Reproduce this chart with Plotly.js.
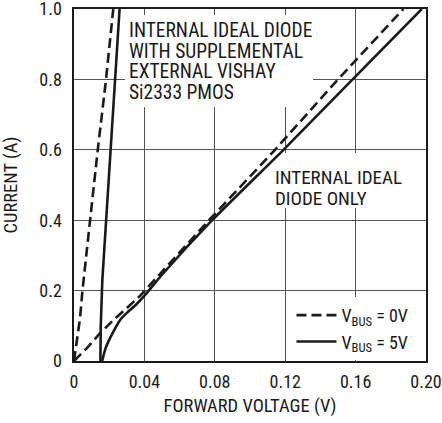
<!DOCTYPE html>
<html>
<head>
<meta charset="utf-8">
<script src="https://cdn.plot.ly/plotly-3.0.1.min.js"></script>
<style>
html,body{margin:0;padding:0;background:#fff;}
#chart{width:442px;height:423px;}
#chart svg text{font-stretch:87% !important;}
</style>
</head>
<body>
<div id="chart"></div>
<script>
// Forward voltage (V) and current (A)
var pmosV0 = [0, 0.0015, 0.0034, 0.0048, 0.0091, 0.0135, 0.0182, 0.0223];
var pmosI0 = [0, 0.05, 0.12, 0.20, 0.40, 0.60, 0.80, 1.00];
var pmosV5 = [0.0150, 0.0152, 0.0161, 0.0182, 0.0208, 0.0233, 0.0259];
var pmosI5 = [0, 0.10, 0.23, 0.40, 0.60, 0.80, 1.00];
var idealV0 = [0, 0.0072, 0.0148, 0.0223, 0.0299, 0.0375, 0.0767, 0.1142, 0.1500, 0.1871];
var idealI0 = [0, 0.036, 0.079, 0.116, 0.150, 0.185, 0.400, 0.600, 0.800, 1.000];
var idealV5 = [0.0160, 0.0176, 0.0195, 0.0223, 0.0261, 0.0299, 0.0356, 0.0413, 0.0500, 0.0785, 0.1190, 0.1583, 0.1976];
var idealI5 = [0, 0.031, 0.055, 0.083, 0.116, 0.136, 0.162, 0.193, 0.245, 0.400, 0.600, 0.800, 1.000];

var xTickVals = [0, 0.04, 0.08, 0.12, 0.16, 0.20];
var xTickText = ['0', '0.04', '0.08', '0.12', '0.16', '0.20'];
var yTickVals = [0, 0.2, 0.4, 0.6, 0.8, 1.0];
var yTickText = ['0', '0.2', '0.4', '0.6', '0.8', '1.0'];

var legend0 = 'V<sub>BUS</sub> = 0V';
var legend5 = 'V<sub>BUS</sub> = 5V';
var note1 = ['INTERNAL IDEAL DIODE', 'WITH SUPPLEMENTAL', 'EXTERNAL VISHAY', 'Si2333 PMOS'];
var note2 = ['INTERNAL IDEAL', 'DIODE ONLY'];

var FONT = 'Roboto, "Liberation Sans", sans-serif';
var INK = '#1a1a1a';
var DASH = '10px,5px';

var traces = [
  {x: idealV0, y: idealI0, mode: 'lines', name: legend0, legendgroup: 'v0', showlegend: true,
   line: {color: INK, width: 2.6, dash: DASH}},
  {x: pmosV0, y: pmosI0, mode: 'lines', name: legend0, legendgroup: 'v0', showlegend: false,
   line: {color: INK, width: 2.6, dash: DASH}},
  {x: idealV5, y: idealI5, mode: 'lines', name: legend5, legendgroup: 'v5', showlegend: true,
   line: {color: INK, width: 2.6, shape: 'spline', smoothing: 0.5}},
  {x: pmosV5, y: pmosI5, mode: 'lines', name: legend5, legendgroup: 'v5', showlegend: false,
   line: {color: INK, width: 2.6}}
];

function yPix(p) { return (361 - p) / 352; }
function xPix(p) { return (p - 74) / 352 * 0.2; }

var annotations = [];
var c1 = [30.5, 51, 71.5, 92];
note1.forEach(function (t, i) {
  annotations.push({text: t, xref: 'x', yref: 'y', x: xPix(127), y: yPix(c1[i]),
    xanchor: 'left', yanchor: 'middle', showarrow: false, align: 'left',
    font: {family: FONT, size: 19.5, color: INK}});
});
var c2 = [177.5, 198.5];
note2.forEach(function (t, i) {
  annotations.push({text: t, xref: 'x', yref: 'y', x: xPix(273), y: yPix(c2[i]),
    xanchor: 'left', yanchor: 'middle', showarrow: false, align: 'left',
    font: {family: FONT, size: 19, color: INK}});
});

var shapes = [
  {type: 'rect', xref: 'x', yref: 'y', x0: xPix(125), x1: xPix(313), y0: yPix(107), y1: yPix(15),
   fillcolor: '#fff', line: {width: 0}, layer: 'between'},
  {type: 'rect', xref: 'x', yref: 'y', x0: xPix(270), x1: xPix(405), y0: yPix(208), y1: yPix(153),
   fillcolor: '#fff', line: {width: 0}, layer: 'between'}
];

var axisCommon = {
  showline: true, linecolor: INK, linewidth: 1.6, mirror: true,
  showgrid: true, gridcolor: '#555555', gridwidth: 1.1,
  zeroline: false, ticks: '', tickmode: 'array', ticklabeloverflow: 'allow',
  tickfont: {family: FONT, size: 18, color: INK}
};

var layout = {
  width: 442, height: 423,
  margin: {l: 74, r: 16, t: 9, b: 62},
  paper_bgcolor: '#fff', plot_bgcolor: '#fff',
  font: {family: FONT, color: INK},
  xaxis: Object.assign({}, axisCommon, {
    range: [0, 0.2], tickvals: xTickVals, ticktext: xTickText, ticklabelstandoff: 4,
    title: {text: 'FORWARD VOLTAGE (V)', font: {family: FONT, size: 18.5, color: INK}, standoff: 8}
  }),
  yaxis: Object.assign({}, axisCommon, {
    range: [0, 1], tickvals: yTickVals, ticktext: yTickText, ticklabelstandoff: 7,
    title: {text: 'CURRENT (A)', font: {family: FONT, size: 18.5, color: INK}, standoff: 14}
  }),
  showlegend: true,
  legend: {x: 0.99, xanchor: 'right', y: 0.003, yanchor: 'bottom',
    bgcolor: '#fff', borderwidth: 0, itemwidth: 40, tracegroupgap: 0,
    font: {family: FONT, size: 18, color: INK}},
  annotations: annotations,
  shapes: shapes
};

Plotly.newPlot('chart', traces, layout, {staticPlot: true, displayModeBar: false});
</script>
</body>
</html>
